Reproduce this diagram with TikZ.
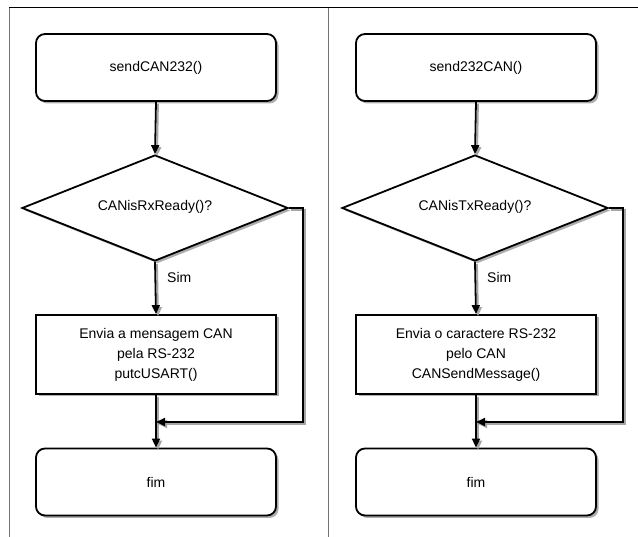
\documentclass[tikz,border=0pt]{standalone}
\usepackage{fontspec}
\setmainfont{Liberation Sans}
\usetikzlibrary{shapes.geometric,shadows,arrows.meta}
\begin{document}
\begin{tikzpicture}[x=1pt,y=-1pt,
  font=\fontsize{14}{20}\selectfont,
  shd/.style={drop shadow={shadow xshift=2.5pt,shadow yshift=-2.5pt,fill=black!40,opacity=0.8}},
  term/.style={draw,line width=1.8pt,rounded corners=9pt,fill=white,minimum width=240pt,minimum height=67pt,inner sep=0pt,shd},
  proc/.style={draw,line width=1.8pt,fill=white,minimum width=240pt,minimum height=79pt,inner sep=0pt,align=center,shd},
  dec/.style={draw,diamond,line width=1.8pt,fill=white,minimum width=266pt,minimum height=106pt,inner sep=0pt,shd},
  flow/.style={line width=1.8pt,-{Triangle[length=9pt,width=8pt]},
    preaction={draw=black!35,line width=1.8pt,transform canvas={xshift=2pt,yshift=-2pt}}},
  lbl/.style={inner sep=0pt,anchor=west}]
\useasboundingbox (0,0) rectangle (638,537);
\fill[white] (0,0) rectangle (638,537);
\draw[black!55,line width=1pt] (9,8) -- (9,537);
\draw[black!55,line width=1pt] (328,8) -- (328,537);
\draw[black,line width=1pt] (9,8) -- (638,8);

% left flowchart
\node[term] (s1) at (156,67.5) {sendCAN232()};
\node[dec] (d1) at (155,208) {};
\node at (155,207) {CANisRxReady()?};
\node[proc] (p1) at (156,354.5) {Envia a mensagem CAN\\pela RS-232\\putcUSART()};
\node[term] (f1) at (156,482) {fim};
\node[lbl] (sim1) at (167,277) {Sim};
\coordinate (j1) at (156,422);
\draw[flow] (s1.south) -- (d1.north);
\draw[flow] (d1.south) -- (p1.north);
\draw[flow] (p1.south) -- (f1.north);
\draw[flow] (d1.east) -- (303,208) -- (303,422) -- (j1);

% right flowchart
\node[term] (s2) at (476,67.5) {send232CAN()};
\node[dec] (d2) at (475,208) {};
\node at (475,207) {CANisTxReady()?};
\node[proc] (p2) at (476,354.5) {Envia o caractere RS-232\\pelo CAN\\CANSendMessage()};
\node[term] (f2) at (476,482) {fim};
\node[lbl] (sim2) at (487,277) {Sim};
\coordinate (j2) at (476,422);
\draw[flow] (s2.south) -- (d2.north);
\draw[flow] (d2.south) -- (p2.north);
\draw[flow] (p2.south) -- (f2.north);
\draw[flow] (d2.east) -- (623,208) -- (623,422) -- (j2);
\end{tikzpicture}
\end{document}
